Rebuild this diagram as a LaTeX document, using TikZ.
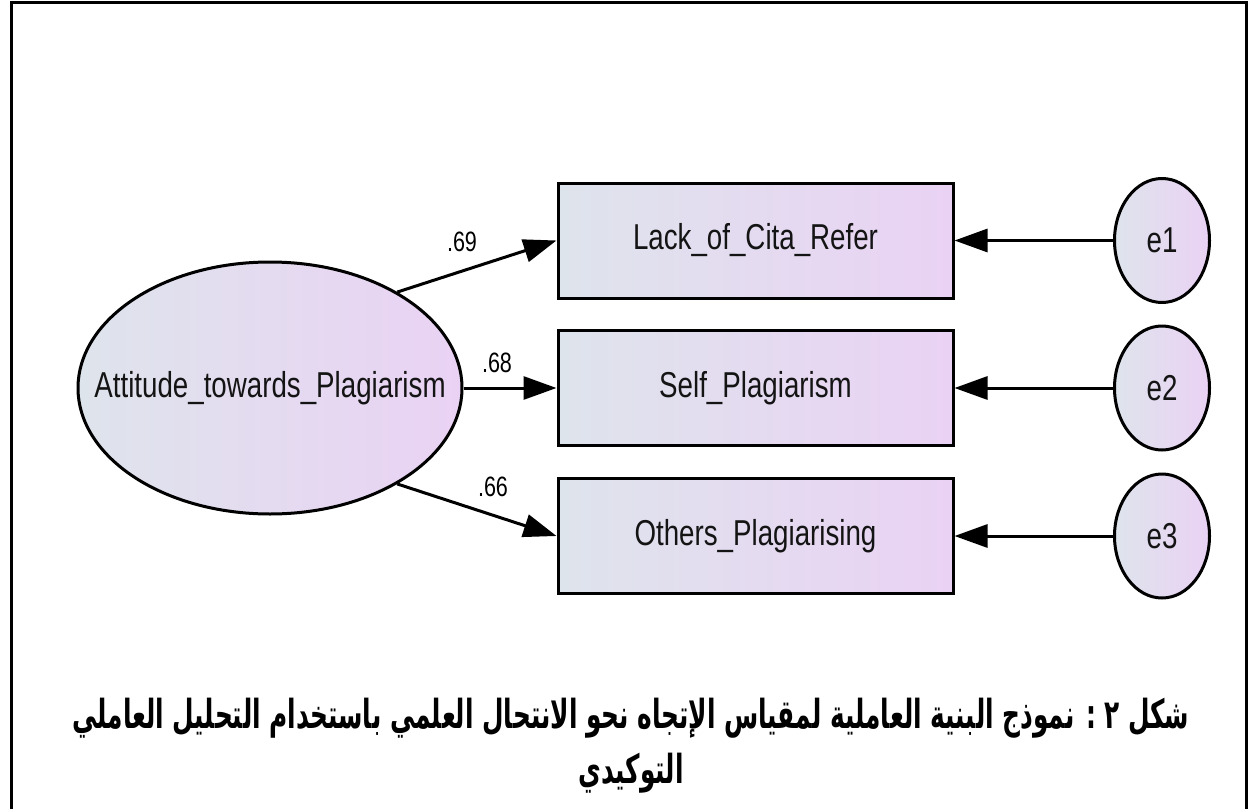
\documentclass[tikz,border=0pt]{standalone}
\usepackage{fontspec}
\usetikzlibrary{arrows.meta,shapes.geometric}
\TeXXeTstate=1
\newfontfamily\amosfont[FakeStretch=0.77]{Liberation Sans}
\newfontfamily\arabiccap[Script=Arabic,FakeStretch=0.62]{DejaVu Sans}
\definecolor{gradL}{RGB}{222,228,236}
\definecolor{gradR}{RGB}{234,210,244}
\tikzset{
  amostext/.style={font=\amosfont\fontsize{18}{20}\selectfont, text=black!92},
  latent/.style={ellipse, draw, line width=1.5pt, left color=gradL, right color=gradR, inner sep=0pt, amostext},
  observed/.style={rectangle, draw, line width=1.5pt, left color=gradL, right color=gradR, minimum width=197.5pt, minimum height=57.5pt, inner sep=0pt, amostext},
  conn/.style={line width=1.5pt, -{Triangle[length=16.5pt,width=11.5pt]}},
  coef/.style={font=\amosfont\fontsize{14}{16}\selectfont, inner sep=0pt},
  captxt/.style={font=\arabiccap\bfseries\fontsize{20}{22}\selectfont, inner sep=0pt}
}
\begin{document}
\begin{tikzpicture}[x=0.5pt,y=-0.5pt]
\useasboundingbox (0,0) rectangle (1249,809);
\draw[line width=1.5pt] (11,809) -- (11,2) -- (1246,2) -- (1246,809);
\node[latent, minimum width=192pt, minimum height=126pt] (att) at (270,388) {\makebox[0pt]{Attitude\_towards\_Plagiarism}};
\node[observed] (b1) at (755.5,240.5) {Lack\_of\_Cita\_Refer};
\node[observed] (b2) at (755.5,388) {Self\_Plagiarism};
\node[observed] (b3) at (755.5,536) {Others\_Plagiarising};
\node[latent, minimum width=47.5pt, minimum height=62pt] (e1) at (1162,240.5) {\makebox[0pt]{e1}};
\node[latent, minimum width=47.5pt, minimum height=62pt] (e2) at (1162,388) {\makebox[0pt]{e2}};
\node[latent, minimum width=47.5pt, minimum height=62pt] (e3) at (1162,536) {\makebox[0pt]{e3}};
\draw[conn] (att.37) -- (b1.west);
\draw[conn] (att.east) -- (b2.west);
\draw[conn] (att.-37) -- (b3.west);
\draw[conn] (e1) -- (b1);
\draw[conn] (e2) -- (b2);
\draw[conn] (e3) -- (b3);
\node[coef] (l1) at (462,242) {.69};
\node[coef] (l2) at (497,363) {.68};
\node[coef] (l3) at (493,487) {.66};
\node[captxt] (cap1) at (631,718) {\beginR شكل ٢ : نموذج البنية العاملية لمقياس الإتجاه نحو الانتحال العلمي باستخدام التحليل العاملي\endR};
\node[captxt] (cap2) at (631,773) {\beginR التوكيدي\endR};
\end{tikzpicture}
\end{document}
